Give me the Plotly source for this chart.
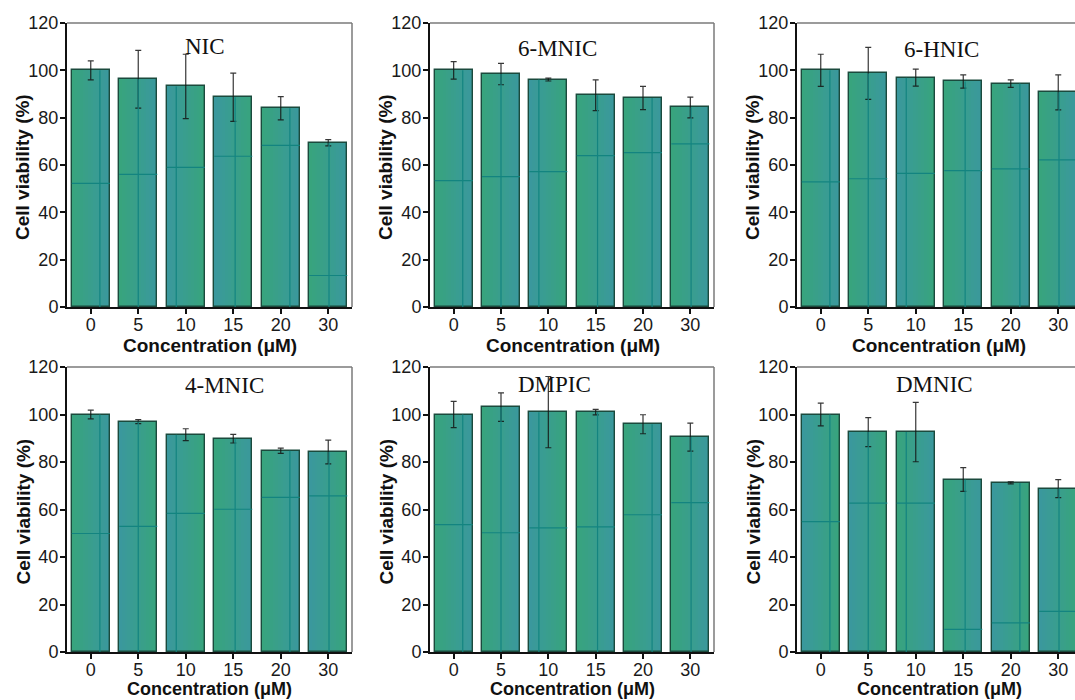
import plotly.graph_objects as go

# ---------------- data ----------------
concentrations = ["0", "5", "10", "15", "20", "30"]
panel_names = ["NIC", "6-MNIC", "6-HNIC", "4-MNIC", "DMPIC", "DMNIC"]

nic_mean = [100.0, 96.2, 93.2, 88.6, 84.0, 69.4]
nic_err = [4.0, 12.2, 13.6, 10.2, 4.9, 1.3]
nic_inner = [52.2, 56.0, 59.0, 63.7, 68.3, 13.3]

mnic6_mean = [100.0, 98.4, 96.1, 89.5, 88.3, 84.3]
mnic6_err = [3.7, 4.5, 0.6, 6.5, 4.9, 4.4]
mnic6_inner = [53.4, 55.1, 57.2, 64.0, 65.2, 68.9]

hnic6_mean = [100.0, 98.7, 96.9, 95.3, 94.4, 90.7]
hnic6_err = [6.8, 11.0, 3.6, 2.8, 1.6, 7.4]
hnic6_inner = [52.9, 54.2, 56.5, 57.6, 58.4, 62.2]

mnic4_mean = [100.0, 97.0, 91.5, 89.8, 84.7, 84.2]
mnic4_err = [1.8, 0.8, 2.5, 1.8, 1.1, 5.0]
mnic4_inner = [49.9, 52.9, 58.4, 60.1, 65.1, 65.7]

dmpic_mean = [100.0, 103.1, 101.0, 101.0, 95.9, 90.5]
dmpic_err = [5.5, 6.0, 15.0, 1.2, 4.0, 5.9]
dmpic_inner = [53.6, 50.2, 52.3, 52.7, 57.8, 62.9]

dmnic_mean = [100.0, 92.6, 92.6, 72.6, 71.2, 68.8]
dmnic_err = [4.8, 6.1, 12.5, 5.0, 0.4, 3.8]
dmnic_inner = [54.9, 62.7, 62.7, 9.5, 12.3, 17.1]

means = [nic_mean, mnic6_mean, hnic6_mean, mnic4_mean, dmpic_mean, dmnic_mean]
errs = [nic_err, mnic6_err, hnic6_err, mnic4_err, dmpic_err, dmnic_err]
inners = [nic_inner, mnic6_inner, hnic6_inner, mnic4_inner, dmpic_inner, dmnic_inner]

x_title = "<b>Concentration (μM)</b>"
y_title = "<b>Cell viability (%)</b>"

# ---------------- style ----------------
GREEN = (56, 164, 124)
TEAL = (58, 152, 158)
OUTLINE = "#1b4a3d"
INNER = "#138480"
BAR_W = 0.8
N_SLICES = 14
grad_dirs = [
    [1, 1, -1, -1, 1, 1],
    [1, 1, -1, 1, 1, 1],
    [1, 1, -1, 1, 1, 1],
    [1, -1, -1, 1, 1, -1],
    [1, 1, -1, 1, 1, 1],
    [-1, -1, 1, 1, -1, -1],
]
vline_frac = [0.74, 0.5, 0.25, 0.55, 0.74, 0.52]

W, H = 1075, 700
col_px = [(67, 352), (430, 714), (797, 1075)]
row_px = [(23, 307), (367, 652)]
xtitle_gap = [39, 37]
xtitle_size = [19, 18]
title_px = [(205, 46), (557, 48), (941, 49), (224, 385), (554, 384), (934, 384)]

TICK_FONT = dict(family="Liberation Sans, Arial", size=18, color="#1a1a1a")
AX_TITLE_FONT = dict(family="Liberation Sans, Arial", size=19, color="#111111")


def lerp(c1, c2, t):
    return "rgb(%d,%d,%d)" % tuple(round(a + (b - a) * t) for a, b in zip(c1, c2))


fig = go.Figure()
x_pos = list(range(len(concentrations)))
shapes = []
annotations = []

for p in range(6):
    r, c = divmod(p, 3)
    xa = "x" if p == 0 else "x%d" % (p + 1)
    ya = "y" if p == 0 else "y%d" % (p + 1)
    mean, err, inner = means[p], errs[p], inners[p]

    # gradient slices
    sw = BAR_W / N_SLICES
    for k in range(N_SLICES):
        t = (k + 0.5) / N_SLICES
        cols = [lerp(GREEN, TEAL, t if d > 0 else 1 - t) for d in grad_dirs[p]]
        fig.add_trace(go.Bar(
            x=x_pos, y=mean, xaxis=xa, yaxis=ya,
            width=sw * 1.08, offset=-BAR_W / 2 + k * sw,
            marker=dict(color=cols, line=dict(width=0)),
            showlegend=False, hoverinfo="skip"))

    # inner artifact lines
    vx, vy, hx, hy = [], [], [], []
    for i in x_pos:
        xv = i - BAR_W / 2 + vline_frac[i] * BAR_W
        vx += [xv, xv, None]
        vy += [0, mean[i], None]
        hx += [i - BAR_W / 2, i + BAR_W / 2, None]
        hy += [inner[i], inner[i], None]
    fig.add_trace(go.Scatter(x=vx + hx, y=vy + hy, xaxis=xa, yaxis=ya, mode="lines",
                             line=dict(color=INNER, width=1.2), showlegend=False,
                             hoverinfo="skip"))

    # outline + error bars
    fig.add_trace(go.Bar(
        x=x_pos, y=mean, xaxis=xa, yaxis=ya, width=BAR_W,
        marker=dict(color="rgba(0,0,0,0)", line=dict(color=OUTLINE, width=1.4)),
        error_y=dict(type="data", array=err, visible=True, color="rgba(20,20,20,0.85)",
                     thickness=1.2, width=3),
        showlegend=False))

    x0, x1 = col_px[c]
    y0, y1 = row_px[r]
    last_col = (c == 2)
    xr_end = 5.5 if not last_col else -0.5 + (x1 - x0) / (285 / 6)
    xkey = "xaxis" if p == 0 else "xaxis%d" % (p + 1)
    ykey = "yaxis" if p == 0 else "yaxis%d" % (p + 1)
    fig.layout[xkey] = dict(
        domain=[x0 / W, x1 / W], anchor=ya, range=[-0.5, xr_end],
        tickmode="array", tickvals=x_pos, ticktext=concentrations,
        showline=True, linecolor="#111111", linewidth=2, ticks="outside",
        ticklen=5, tickwidth=1.5, tickcolor="#111111", tickfont=TICK_FONT,
        ticklabelstandoff=-5,
        showgrid=False, zeroline=False, automargin=False, fixedrange=True)
    fig.layout[ykey] = dict(
        domain=[1 - y1 / H, 1 - y0 / H], anchor=xa, range=[0, 120],
        tickmode="array", tickvals=[0, 20, 40, 60, 80, 100, 120],
        showline=True, linecolor="#111111", linewidth=2, ticks="outside",
        ticklen=5, tickwidth=1.5, tickcolor="#111111", tickfont=TICK_FONT,
        ticklabelstandoff=-2,
        showgrid=False, zeroline=False, automargin=False, fixedrange=True)

    # top & right frame (thin gray)
    shapes.append(dict(type="line", xref="paper", yref="paper",
                       x0=x0 / W, x1=x1 / W, y0=1 - y0 / H, y1=1 - y0 / H,
                       line=dict(color="#7a7a7a", width=1.5)))
    if not last_col:
        shapes.append(dict(type="line", xref="paper", yref="paper",
                           x0=x1 / W, x1=x1 / W, y0=1 - y1 / H, y1=1 - y0 / H,
                           line=dict(color="#7a7a7a", width=1.5)))

    # axis titles as annotations
    annotations.append(dict(text=y_title, textangle=-90, x=(x0 - 44) / W,
                            y=1 - ((y0 + y1) / 2 + 2) / H, xref="paper", yref="paper",
                            showarrow=False, xanchor="center", yanchor="middle",
                            font=AX_TITLE_FONT))
    xc = (x0 + x0 + 285) / 2
    annotations.append(dict(text=x_title, x=xc / W, y=1 - (y1 + xtitle_gap[r]) / H,
                            xref="paper", yref="paper", showarrow=False,
                            xanchor="center", yanchor="middle",
                            font=dict(AX_TITLE_FONT, size=xtitle_size[r])))

    tx, ty = title_px[p]
    annotations.append(dict(text=panel_names[p], x=tx / W, y=1 - ty / H,
                            xref="paper", yref="paper", showarrow=False,
                            xanchor="center", yanchor="middle",
                            font=dict(family="Liberation Serif, Times New Roman",
                                      size=23, color="#111111")))

fig.update_layout(
    width=W, height=H, margin=dict(l=0, r=0, t=0, b=0),
    paper_bgcolor="white", plot_bgcolor="white",
    barmode="overlay", bargap=0, showlegend=False,
    shapes=shapes, annotations=annotations,
)

fig.write_html("out.html", config={"displayModeBar": False})
